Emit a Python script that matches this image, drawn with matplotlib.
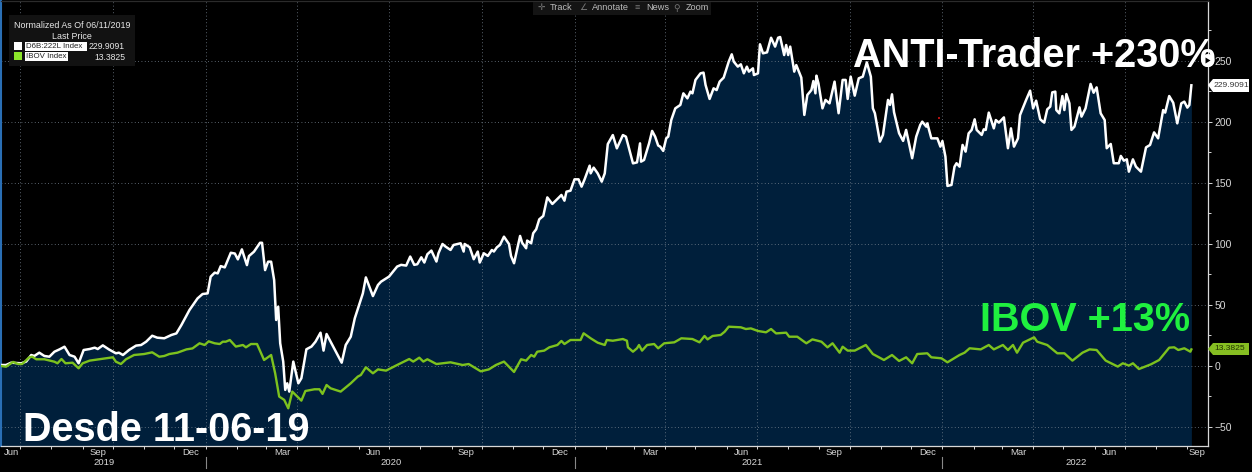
import matplotlib
matplotlib.use("Agg")
import matplotlib.pyplot as plt
from matplotlib.patches import Polygon, Rectangle, Circle
from matplotlib.transforms import blended_transform_factory
import pandas as pd

plt.rcParams["font.family"] = ["Liberation Sans", "DejaVu Sans"]

START = pd.Timestamp("2019-06-11")

# days since 11-06-19, values normalised to 0 at the start
white_days = [0, 5, 10, 20, 25, 30, 33, 38, 43, 48, 53, 58, 63, 68, 73, 77, 82, 88, 93, 96,
              101, 107, 114, 117, 121, 127, 134, 139, 144, 150, 155, 162, 169, 174, 179, 182, 187, 195, 200, 205,
              208, 212, 215, 218, 222, 228, 232, 235, 239, 244, 246, 251, 257, 259, 262, 265, 268, 271, 273, 275,
              277, 280, 282, 284, 286, 290, 295, 298, 303, 308, 312, 317, 320, 323, 327, 334, 338, 342, 347, 351,
              359, 362, 369, 374, 377, 385, 389, 393, 397, 402, 406, 410, 413, 417, 420, 423, 427, 432, 434, 438,
              441, 446, 449, 456, 459, 460, 465, 469, 473, 475, 479, 483, 487, 489, 492, 495, 499, 504, 506, 509,
              515, 517, 521, 522, 526, 528, 531, 534, 538, 542, 547, 556, 559, 561, 565, 569, 573, 576, 579, 584,
              585, 588, 592, 596, 599, 602, 607, 611, 617, 620, 627, 631, 634, 635, 638, 643, 646, 649, 652, 654,
              657, 660, 662, 665, 669, 674, 677, 681, 684, 686, 689, 694, 697, 699, 703, 707, 710, 713, 717, 722,
              725, 727, 731, 734, 737, 740, 742, 746, 747, 751, 753, 756, 760, 764, 768, 771, 773, 777, 779, 781,
              783, 787, 789, 794, 797, 800, 804, 806, 808, 809, 811, 815, 818, 822, 827, 831, 835, 838, 840, 843,
              847, 851, 855, 859, 863, 865, 867, 872, 875, 880, 882, 884, 886, 891, 895, 898, 904, 908, 912, 914,
              918, 919, 923, 929, 932, 934, 937, 939, 943, 946, 948, 951, 954, 957, 960, 963, 966, 968, 973, 975,
              977, 980, 985, 987, 990, 995, 999, 1002, 1005, 1009, 1011, 1017, 1021, 1024, 1027, 1031, 1035, 1038, 1041, 1043,
              1046, 1047, 1050, 1053, 1055, 1057, 1060, 1062, 1065, 1070, 1072, 1076, 1081, 1084, 1087, 1091, 1095, 1097, 1101, 1104,
              1109, 1111, 1114, 1117, 1119, 1123, 1126, 1131, 1136, 1140, 1144, 1148, 1153, 1155, 1159, 1163, 1167, 1171, 1174, 1177,
              1179, 1181]
white_vals = [0.6, 0.6, 2.5, 2, 3.4, 8.8, 8, 10.7, 8, 7.4, 11.5, 13.4, 15.6, 8.8, 7.4, 2, 12.9, 13.7, 14.8, 13.7,
              16.7, 13.4, 10.2, 10.7, 8.8, 12.9, 16.5, 17, 19.7, 24.6, 23, 22.5, 25.2, 26.5, 33.4, 38, 45.7, 55.2, 58.8, 59.3,
              73, 76.3, 75.7, 81.7, 80.6, 92.6, 92, 87.2, 95.4, 82.5, 89.9, 93.5, 100.8, 100.8, 78.4, 85.3, 85.3, 70.2, 37.5, 48.4,
              18.4, 3.4, -19.8, -14.4, -21.2, 3.4, -14.4, -10.3, 13.5, 15.7, 19.7, 27.1, 12.4, 26, 19.7, 8.8, 2.5, 17, 23.8, 38.9,
              59.3, 72.4, 57.1, 66.2, 68.9, 73.1, 77.2, 81.3, 82.7, 82.1, 89.5, 82.7, 83.2, 88.9, 84.6, 91.4, 94.4, 85.4, 92.2, 99.8,
              97.7, 94.9, 99, 100.4, 93.6, 99.8, 97.1, 87.3, 93.6, 84.6, 92.2, 90, 94.9, 93.6, 97.1, 99, 105.8, 99.8, 90, 84,
              106.4, 100.9, 96.3, 102.6, 100.4, 108.6, 111.9, 120, 122.8, 138, 132.6, 140, 135.3, 142.7, 143.5, 152.8, 152.8, 146.8, 152.8, 164,
              157.7, 162.4, 157.7, 150.9, 157.7, 181.7, 189.1, 178.2, 189.1, 187.8, 165.9, 166.7, 182.3, 167.3, 168.7, 182.4, 192.5, 187.8, 180.5, 179.6,
              176.1, 186.5, 187.8, 201.5, 211, 213.8, 223.3, 219.2, 224.7, 223.3, 234.3, 239.7, 240.3, 230.2, 218.7, 227.4, 226, 232.9, 236.2, 249.3,
              255.3, 249.3, 245.2, 247.1, 239.7, 245.2, 241.1, 243.8, 238.3, 239.7, 263.5, 256.1, 256.9, 268.9, 261.6, 268.9, 269.5, 254.7, 262.9, 254.7,
              261.6, 241.1, 246.5, 236.2, 205.6, 222, 226, 233.4, 223.3, 237.8, 231.5, 211, 217.9, 215.1, 232.9, 207, 234.3, 234.3, 218.7, 237,
              221.4, 235.6, 237, 248.7, 237, 211, 207, 183.7, 189.2, 217.9, 213.8, 222.5, 207.8, 190.6, 184.3, 193.3, 170.1, 187.8, 197.4, 200.1,
              196, 198.7, 186.4, 186.4, 179.6, 184.2, 171.4, 147.4, 148.2, 163.2, 166, 163.2, 181, 175.5, 190.5, 193.3, 202, 193.3, 189.2, 193.8,
              193.3, 207.5, 194.6, 201.4, 199.3, 203.6, 178.3, 194.6, 179.6, 186.4, 205.5, 217.8, 225.5, 211, 217.3, 202, 199.3, 210.2, 212.4, 224.1,
              224.7, 209.6, 206.9, 221.1, 209.6, 222.7, 215.1, 193.3, 196, 211.8, 204.2, 211, 231, 223.8, 228.2, 206.9, 201.4, 178.3, 181.8, 166,
              166, 172, 168.1, 169.2, 159.1, 169.2, 163.2, 159.1, 179, 181, 191.3, 186.4, 209.6, 207.5, 221.1, 215.6, 198.7, 215.1, 216.5, 211.6,
              213.7, 229.9]

green_days = [0, 5, 12, 17, 21, 28, 31, 35, 43, 53, 56, 60, 64, 71, 77, 81, 88, 99, 111, 114,
              119, 124, 132, 142, 150, 157, 162, 167, 175, 184, 190, 197, 202, 206, 212, 217, 220, 223, 227, 233,
              240, 243, 248, 254, 261, 268, 272, 276, 281, 285, 289, 298, 302, 311, 316, 319, 323, 327, 337, 347,
              354, 357, 362, 369, 374, 382, 393, 405, 409, 415, 419, 423, 432, 446, 458, 464, 476, 484, 491, 499,
              504, 509, 516, 521, 526, 529, 532, 539, 544, 552, 556, 559, 565, 575, 578, 585, 592, 599, 601, 607,
              617, 621, 622, 627, 631, 633, 636, 641, 648, 652, 658, 668, 675, 686, 693, 698, 701, 706, 714, 718,
              722, 734, 739, 744, 751, 759, 764, 769, 779, 782, 790, 799, 805, 814, 820, 825, 832, 835, 840, 847,
              858, 865, 876, 884, 891, 898, 904, 909, 919, 923, 933, 939, 951, 956, 961, 972, 980, 985, 994, 999,
              1004, 1008, 1014, 1025, 1028, 1038, 1048, 1055, 1063, 1073, 1080, 1087, 1096, 1108, 1113, 1119, 1123, 1129, 1141, 1149,
              1159, 1164, 1168, 1174, 1180, 1181]
green_vals = [-0.2, -0.8, 3.1, 1.4, 1.4, 6.9, 7.4, 5.3, 5.3, 3.3, 2, 5.5, 2, 2.5, -2.1, 2, 4.2, 5.5, 6.9, 3.3,
              1.4, 5.3, 8.8, 9.6, 11, 7.4, 8, 9.6, 10.7, 13.4, 14.2, 18.4, 17, 20, 18.4, 17.8, 19.7, 19.7, 21.1, 15.7,
              17, 15.1, 17.8, 17.8, 4.7, 8.8, -6.2, -25.3, -28, -34.9, -21.2, -28.6, -20.7, -19.3, -19.3, -23.1, -15.8, -18.5, -21.2, -14.4,
              -8.9, -7.6, -1.3, -6.2, -3, -4, 0.6, 5.5, 3.4, 6.6, 3.4, 5.3, 1.4, 2.8, 0.6, 1.4, -4.6, -3, 0.6, 3.4,
              -0.8, -5.1, 5.3, 4.2, 8.8, 7.4, 11.5, 12.4, 15.1, 17, 20.3, 17.8, 21.1, 21.1, 26.6, 22.5, 18.9, 17, 21.1, 20.5,
              21.9, 20.5, 15.1, 11.5, 14.3, 17, 12.4, 17, 17.8, 14.3, 18.4, 19.2, 22.5, 21.9, 19.2, 24.4, 21.6, 24.4, 25.2, 27.9,
              32, 31.5, 30.1, 30.6, 28.5, 27.4, 30.1, 26.5, 27.1, 23.8, 23.8, 18.4, 21.6, 19.7, 15.1, 18.4, 10.7, 15.6, 12.4, 12.4,
              17, 9.6, 4.7, 8.8, 3.9, 6.9, 2, 9.6, 10.2, 6.9, 6.1, 2.8, 8.8, 10.7, 14.3, 13.4, 17, 13.4, 17, 12.9,
              17, 10.7, 18.9, 23.3, 19.7, 17, 10.2, 10.2, 4.2, 10.7, 13.4, 12.9, 4.2, -0.7, 2, 0.1, 2, -2.7, 1.2, 4.7,
              14.8, 15.1, 12.9, 14.3, 11.5, 13.38]

y_ticks = [-50, 0, 50, 100, 150, 200, 250]
y_minor = [-25, 25, 75, 125, 175, 225, 275]
quarter_labels = ["Jun", "Sep", "Dec", "Mar", "Jun", "Sep", "Dec", "Mar", "Jun", "Sep", "Dec", "Mar", "Jun", "Sep"]
quarter_label_days = [10, 96, 188, 279, 370, 461, 554, 644, 735, 826, 919, 1009, 1100, 1187]
year_labels = ["2019", "2020", "2021", "2022"]
year_label_days = [102, 387, 745, 1067]
year_break_days = [203, 569, 934]

month_ends = pd.date_range("2019-06-30", "2022-08-31", freq="ME")
month_days = [(d - START).days for d in month_ends]
quarter_days = [(d - START).days for d in month_ends if d.month in (3, 6, 9, 12)]

W, H = 1252, 472
BG = "#000000"
NAVY = "#001F3B"
GREEN = "#7DC21E"
TICK = "#D8D8D8"

fig = plt.figure(figsize=(W / 100, H / 100), dpi=100, facecolor=BG)
ax = fig.add_axes([1 / W, 1 - 446 / H, 1206.5 / W, 445 / H], facecolor=BG)

ax.fill_between(white_days, white_vals, -66, color=NAVY, lw=0, zorder=1)
ax.plot(white_days, white_vals, color="#FFFFFF", lw=1.8, zorder=3)
ax.plot(green_days, green_vals, color=GREEN, lw=1.7, zorder=4)

ax.set_xlim(0, 1197)
ax.set_ylim(-65.8, 299)
ax.yaxis.tick_right()
ax.set_yticks(y_ticks)
ax.set_yticks(y_minor, minor=True)
ax.set_xticks(quarter_days)
ax.set_xticks(month_days, minor=True)
ax.set_xticklabels([])
ax.grid(True, which="major", color="#77838F", lw=0.6, ls=(0, (1, 3)))
ax.tick_params(axis="y", which="major", colors=TICK, labelsize=7.5, length=3, width=0.7, pad=2)
ax.tick_params(axis="y", which="minor", colors=TICK, length=2, width=0.7)
ax.tick_params(axis="x", which="both", colors=TICK, length=2.5, width=0.7)
for side, spine in ax.spines.items():
    spine.set_color(TICK)
    spine.set_linewidth(0.9)
ax.spines["left"].set_color("#2A6FB5")
ax.spines["left"].set_linewidth(1.5)
ax.spines["top"].set_color("#2B2B2B")

trans = blended_transform_factory(ax.transData, ax.transAxes)
for name, d in zip(quarter_labels, quarter_label_days):
    ax.text(d, -0.0135, name, transform=trans, color=TICK, fontsize=6.8, ha="center", va="center", clip_on=False)
for name, d in zip(year_labels, year_label_days):
    ax.text(d, -0.036, name, transform=trans, color=TICK, fontsize=6.8, ha="center", va="center", clip_on=False)
for d in year_break_days:
    ax.plot([d, d], [-0.025, -0.05], transform=trans, color="#888888", lw=0.8, clip_on=False)

# pixel overlay for legend, toolbar, price tags and the big captions
ov = fig.add_axes([0, 0, 1, 1], facecolor="none")
ov.set_xlim(0, W)
ov.set_ylim(H, 0)
ov.axis("off")

ov.add_patch(Rectangle((9, 15), 126, 51, color="#121212", lw=0))
ov.text(72, 26, "Normalized As Of 06/11/2019", color="#E8E8E8", fontsize=6.4, ha="center", va="center")
ov.text(72, 36.5, "Last Price", color="#E8E8E8", fontsize=6.4, ha="center", va="center")
ov.add_patch(Rectangle((14, 42), 8, 8, color="#FFFFFF", lw=0))
ov.add_patch(Rectangle((14, 52), 8, 8, color="#8CE62A", lw=0))
ov.add_patch(Rectangle((25, 42), 62, 9, color="#FFFFFF", lw=0))
ov.add_patch(Rectangle((25, 52), 43, 9, color="#FFFFFF", lw=0))
ov.text(25.5, 46.5, "D6B:222L Index", color="#222222", fontsize=5.7, va="center")
ov.text(25.5, 57, "IBOV Index", color="#222222", fontsize=5.7, va="center")
ov.text(125, 46.5, "229.9091", color="#E8E8E8", fontsize=6.2, ha="right", va="center")
ov.text(125, 57, "13.3825", color="#E8E8E8", fontsize=6.2, ha="right", va="center")

ov.add_patch(Rectangle((533, 2), 178, 13, color="#141414", lw=0))
for x, icon, label in [(541, "\u271b", "Track"), (583, "\u2220", "Annotate"),
                       (637, "\u2261", "News"), (677, "\u26b2", "Zoom")]:
    ov.text(x, 8, icon, color="#777777", fontsize=6.5, ha="center", va="center")
    ov.text(x + 9, 8, label, color="#BDBDBD", fontsize=6.6, va="center")

ov.add_patch(Polygon([(1208, 85), (1213, 79), (1249, 79), (1249, 92), (1213, 92)], color="#FFFFFF", lw=0))
ov.text(1214, 85.5, "229.9091", color="#333333", fontsize=6.1, va="center")
ov.add_patch(Polygon([(1208, 349), (1213, 343), (1249, 343), (1249, 355), (1213, 355)], color="#86BE22", lw=0))
ov.text(1214, 349, "13.3825", color="#223300", fontsize=6.1, va="center")

ov.add_patch(Circle((1208, 60.5), 6.5, color="#FFFFFF", lw=0, zorder=5))
ov.add_patch(Polygon([(1205.5, 57.5), (1210.5, 60.5), (1205.5, 63.5)], color="#000000", lw=0, zorder=6))
ov.add_patch(Rectangle((938, 117), 2, 2, color="#B01010", lw=0))

big = dict(family=["Liberation Sans"], fontweight="bold", fontsize=28.5, va="baseline")
ov.text(853, 67, "ANTI-Trader +230%", color="#FFFFFF", **big)
ov.text(980, 331, "IBOV +13%", color="#1FF03F", **big)
ov.text(23, 441, "Desde 11-06-19", color="#FFFFFF", **big)

assert len(white_days) == len(white_vals) and len(green_days) == len(green_vals)
fig.savefig("out.png", dpi=100, facecolor=BG)
